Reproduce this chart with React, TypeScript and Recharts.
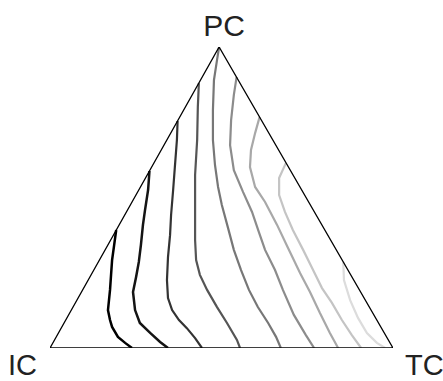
import { LineChart, Line, XAxis, YAxis } from "recharts";

// ternary frame in plot units: x runs IC(0) -> TC(100) along the base, y is PC %
const frame = [
  { x: 0, y: 0 },
  { x: 49.3, y: 100 },
  { x: 100, y: 0 },
  { x: 0, y: 0 },
];

const line1 = [
  { x: 19.3, y: 39.2 }, { x: 18.7, y: 34.2 }, { x: 18.1, y: 29.2 }, { x: 17.8, y: 24.3 },
  { x: 17.5, y: 19.3 }, { x: 16.9, y: 12.6 }, { x: 17.5, y: 9.3 }, { x: 18.1, y: 7.0 },
  { x: 19.8, y: 3.7 }, { x: 21.9, y: 1.7 }, { x: 23.9, y: 0 },
];
const line2 = [
  { x: 29.0, y: 58.8 }, { x: 28.6, y: 52.5 }, { x: 27.7, y: 45.8 }, { x: 27.1, y: 40.9 },
  { x: 26.5, y: 34.2 }, { x: 25.9, y: 28.6 }, { x: 25.1, y: 23.6 }, { x: 24.2, y: 18.6 },
  { x: 24.8, y: 12.6 }, { x: 26.2, y: 8.3 }, { x: 29.2, y: 5.0 }, { x: 32.1, y: 2.0 },
  { x: 34.4, y: 0 },
];
const line3 = [
  { x: 37.2, y: 75.4 }, { x: 37.0, y: 69.1 }, { x: 36.4, y: 60.1 }, { x: 35.9, y: 52.5 },
  { x: 35.3, y: 44.2 }, { x: 35.0, y: 37.5 }, { x: 34.4, y: 30.2 }, { x: 34.1, y: 22.6 },
  { x: 34.4, y: 16.6 }, { x: 35.6, y: 12.6 }, { x: 37.6, y: 9.3 }, { x: 39.9, y: 6.6 },
  { x: 42.3, y: 3.3 }, { x: 44.3, y: 0 },
];
const line4 = [
  { x: 43.4, y: 88.0 }, { x: 43.1, y: 80.1 }, { x: 42.9, y: 69.1 }, { x: 42.3, y: 57.5 },
  { x: 42.3, y: 45.8 }, { x: 42.3, y: 35.9 }, { x: 42.6, y: 29.2 }, { x: 43.7, y: 24.3 },
  { x: 45.8, y: 19.3 }, { x: 48.7, y: 13.6 }, { x: 51.6, y: 8.3 }, { x: 54.5, y: 2.7 },
  { x: 55.4, y: 0 },
];
const line5 = [
  { x: 49.3, y: 100 }, { x: 48.7, y: 95.7 }, { x: 47.8, y: 89.0 }, { x: 47.5, y: 79.1 },
  { x: 47.5, y: 69.1 }, { x: 48.1, y: 60.8 }, { x: 49.0, y: 53.5 }, { x: 50.1, y: 47.5 },
  { x: 51.9, y: 39.9 }, { x: 53.6, y: 32.6 }, { x: 55.7, y: 25.9 }, { x: 58.0, y: 19.3 },
  { x: 60.6, y: 13.6 }, { x: 63.6, y: 8.3 }, { x: 65.9, y: 3.7 }, { x: 67.3, y: 0 },
];
const line6 = [
  { x: 54.4, y: 90.0 }, { x: 53.6, y: 84.1 }, { x: 52.8, y: 75.7 }, { x: 52.5, y: 67.4 },
  { x: 53.6, y: 59.1 }, { x: 56.3, y: 51.8 }, { x: 58.9, y: 45.2 }, { x: 60.9, y: 38.5 },
  { x: 62.7, y: 32.6 }, { x: 65.6, y: 25.9 }, { x: 67.9, y: 19.3 }, { x: 71.1, y: 11.0 },
  { x: 74.6, y: 4.3 }, { x: 77.0, y: 0 },
];
const line7 = [
  { x: 61.1, y: 76.7 }, { x: 59.8, y: 71.4 }, { x: 58.6, y: 65.8 }, { x: 58.3, y: 60.1 },
  { x: 59.8, y: 53.5 }, { x: 62.7, y: 48.5 }, { x: 66.2, y: 40.9 }, { x: 69.4, y: 33.2 },
  { x: 72.9, y: 24.9 }, { x: 75.8, y: 18.6 }, { x: 78.7, y: 11.6 }, { x: 81.6, y: 5.0 },
  { x: 84.0, y: 0 },
];
const line8 = [
  { x: 68.8, y: 61.5 }, { x: 66.8, y: 56.5 }, { x: 66.8, y: 50.8 }, { x: 68.5, y: 45.2 },
  { x: 70.8, y: 39.2 }, { x: 73.8, y: 32.6 }, { x: 76.7, y: 25.9 }, { x: 79.3, y: 19.9 },
  { x: 82.2, y: 15.0 }, { x: 85.1, y: 9.3 }, { x: 88.0, y: 4.3 }, { x: 90.7, y: 0 },
];
const line9 = [
  { x: 85.5, y: 28.6 }, { x: 85.7, y: 22.6 }, { x: 87.5, y: 15.9 }, { x: 89.8, y: 10.0 },
  { x: 92.4, y: 5.0 }, { x: 95.3, y: 1.7 }, { x: 97.7, y: 0 },
];

const contours = [line1, line2, line3, line4, line5, line6, line7, line8, line9];
const shades = [
  "#000000", "#141414", "#333333", "#555555", "#777777",
  "#8c8c8c", "#a8a8a8", "#c4c4c4", "#dcdcdc",
];

const font = "'Liberation Sans', Arial, sans-serif";

export default function App() {
  return (
    <div style={{ position: "absolute", left: 0, top: 0, width: 443, height: 381 }}>
      <LineChart width={443} height={381} margin={{ top: 47, right: 50, bottom: 33, left: 50 }}>
        <XAxis type="number" dataKey="x" domain={[0, 100]} hide allowDataOverflow />
        <YAxis type="number" dataKey="y" domain={[0, 100]} hide allowDataOverflow />
        {contours.map((pts, i) => (
          <Line
            key={i}
            data={pts}
            dataKey="y"
            type="linear"
            stroke={shades[i]}
            strokeWidth={i < 2 ? 2.5 : 2.2}
            dot={false}
            activeDot={false}
            isAnimationActive={false}
          />
        ))}
        <Line
          data={frame}
          dataKey="y"
          type="linear"
          stroke="#000"
          strokeWidth={1.3}
          dot={false}
          activeDot={false}
          isAnimationActive={false}
        />
      </LineChart>
      <svg
        width={443}
        height={381}
        style={{ position: "absolute", left: 0, top: 0, pointerEvents: "none" }}
      >
        <text x={224} y={36} textAnchor="middle" fontSize={30} fontFamily={font} fill="#222">
          PC
        </text>
        <text x={8} y={375} fontSize={29} fontFamily={font} fill="#222">
          IC
        </text>
        <text x={405} y={375} fontSize={29} fontFamily={font} fill="#222">
          TC
        </text>
      </svg>
    </div>
  );
}
